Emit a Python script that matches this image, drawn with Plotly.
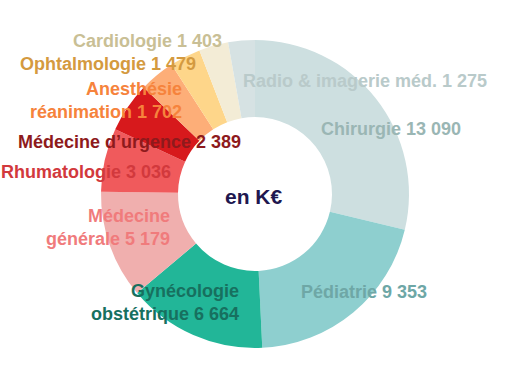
import plotly.graph_objects as go

W, H = 507, 384

categories = ["Chirurgie", "Pédiatrie", "Gynécologie obstétrique", "Médecine générale",
              "Rhumatologie", "Médecine d'urgence", "Anesthésie réanimation",
              "Ophtalmologie", "Cardiologie", "Radio & imagerie méd."]
values = [13090, 9353, 6664, 5179, 3036, 2389, 1702, 1479, 1403, 1275]
slice_colors = ["#cddfe0", "#8ecfcf", "#22b698", "#f0afae", "#f05a5c",
                "#d7191c", "#fdae78", "#fed68a", "#f3ecd6", "#d6e2e3"]
label_colors = ["#9ab6b4", "#6ea7a6", "#17705f", "#f07b7c", "#d2393d",
                "#8e1a1c", "#f6833c", "#d49a3f", "#c9bf95", "#b9caca"]
# label line breaks
label_names = ["Chirurgie", "Pédiatrie", "Gynécologie<br>obstétrique", "Médecine<br>générale",
               "Rhumatologie", "Médecine d’urgence", "Anesthésie<br>réanimation",
               "Ophtalmologie", "Cardiologie", "Radio & imagerie méd."]
# label placement (pixel x, pixel y of text block center, anchor)
label_pos = [(319, 129, "left"), (299, 292, "left"), (241, 302, "right"), (172, 227, "right"),
             (173, 172, "right"), (243, 142, "right"), (184, 101, "right"),
             (198, 64, "right"), (224, 41, "right"), (241, 81, "left")]

def fmt(v):
    return f"{v:,}".replace(",", " ")

cx, cy, R = 255, 194, 154
fig = go.Figure(go.Pie(
    labels=categories, values=values, sort=False, direction="clockwise", rotation=0,
    hole=0.5, marker=dict(colors=slice_colors, line=dict(width=0)),
    textinfo="none", hoverinfo="label+value", showlegend=False,
    domain=dict(x=[(cx - R) / W, (cx + R) / W], y=[(H - cy - R) / H, (H - cy + R) / H]),
))

anns = []
for name, v, col, (px, py, anc) in zip(label_names, values, label_colors, label_pos):
    anns.append(dict(
        x=px / W, y=1 - py / H, xref="paper", yref="paper", xanchor=anc, yanchor="middle",
        align=anc, text=f"<b>{name} {fmt(v)}</b>", showarrow=False,
        font=dict(family="Liberation Sans, Arial, sans-serif", size=18, color=col),
    ))
anns.append(dict(x=254 / W, y=1 - 196 / H, xref="paper", yref="paper", xanchor="center",
                 yanchor="middle", text="<b>en K€</b>", showarrow=False,
                 font=dict(family="Liberation Sans, Arial, sans-serif", size=21, color="#20174f")))

fig.update_layout(width=W, height=H, margin=dict(l=0, r=0, t=0, b=0),
                  paper_bgcolor="white", plot_bgcolor="white", annotations=anns)
fig.write_html("out.html", config={"displayModeBar": False},
               post_script="document.body.style.margin='0';")
